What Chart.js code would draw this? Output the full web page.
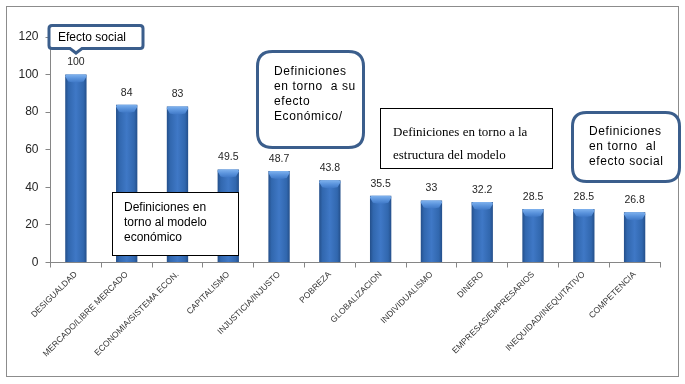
<!DOCTYPE html>
<html>
<head>
<meta charset="utf-8">
<script src="https://cdn.jsdelivr.net/npm/chart.js@4/dist/chart.umd.min.js"></script>
<style>
html,body{margin:0;padding:0;background:#fff;}
canvas{display:block;}
</style>
</head>
<body>
<canvas id="c" width="685" height="384"></canvas>
<script>
const categories = ["DESIGUALDAD","MERCADO/LIBRE MERCADO","ECONOMIA/SISTEMA ECON.","CAPITALISMO","INJUSTICIA/INJUSTO","POBREZA","GLOBALIZACION","INDIVIDUALISMO","DINERO","EMPRESAS/EMPRESARIOS","INEQUIDAD/INEQUITATIVO","COMPETENCIA"];
const values = [100, 84, 83, 49.5, 48.7, 43.8, 35.5, 33, 32.2, 28.5, 28.5, 26.8];
const valueLabels = ["100","84","83","49.5","48.7","43.8","35.5","33","32.2","28.5","28.5","26.8"];
const yTicks = [0, 20, 40, 60, 80, 100, 120];

const annotations = [
  {type:"callout", lines:["Efecto social"]},
  {type:"rect", lines:["Definiciones en","torno al modelo","económico"]},
  {type:"round", lines:["Definiciones","en torno  a su","efecto","Económico/"]},
  {type:"rectSerif", lines:["Definiciones en torno a la","estructura del modelo"]},
  {type:"round", lines:["Definiciones","en torno  al","efecto social"]}
];

const BAR_PCT = 0.42;

function barGradient(context){
  const chart = context.chart;
  const xs = chart.scales.x;
  if (!xs || !chart.chartArea) return '#3b73c0';
  const cx = xs.getPixelForValue(context.dataIndex);
  const w = (xs.width / categories.length) * BAR_PCT;
  const g = chart.ctx.createLinearGradient(cx - w/2, 0, cx + w/2, 0);
  g.addColorStop(0, '#244f8a');
  g.addColorStop(0.15, '#3167ae');
  g.addColorStop(0.5, '#3f78c6');
  g.addColorStop(0.85, '#3167ae');
  g.addColorStop(1, '#244f8a');
  return g;
}

function roundRect(ctx, x, y, w, h, r){
  ctx.beginPath();
  ctx.moveTo(x+r, y);
  ctx.lineTo(x+w-r, y);
  ctx.quadraticCurveTo(x+w, y, x+w, y+r);
  ctx.lineTo(x+w, y+h-r);
  ctx.quadraticCurveTo(x+w, y+h, x+w-r, y+h);
  ctx.lineTo(x+r, y+h);
  ctx.quadraticCurveTo(x, y+h, x, y+h-r);
  ctx.lineTo(x, y+r);
  ctx.quadraticCurveTo(x, y, x+r, y);
  ctx.closePath();
}

const framePlugin = {
  id: 'frame',
  beforeDraw(chart){
    const ctx = chart.ctx;
    ctx.save();
    ctx.fillStyle = '#fff';
    ctx.fillRect(0,0,chart.width,chart.height);
    ctx.strokeStyle = '#8c8c8c';
    ctx.lineWidth = 1;
    ctx.strokeRect(6.5, 6.5, 672, 370);
    ctx.restore();
  }
};

const barExtrasPlugin = {
  id: 'barExtras',
  afterDatasetsDraw(chart){
    const ctx = chart.ctx;
    const meta = chart.getDatasetMeta(0);
    ctx.save();
    meta.data.forEach((bar, i) => {
      const x0 = bar.x - bar.width/2, x1 = bar.x + bar.width/2, y = bar.y;
      const g = ctx.createLinearGradient(0, y, 0, y + 8);
      g.addColorStop(0, '#7fb2ee');
      g.addColorStop(0.5, '#5a93dc');
      g.addColorStop(1, '#3f78c6');
      ctx.fillStyle = g;
      ctx.beginPath();
      ctx.moveTo(x0, y + 2);
      ctx.quadraticCurveTo(x0, y, x0 + 2, y);
      ctx.lineTo(x1 - 2, y);
      ctx.quadraticCurveTo(x1, y, x1, y + 2);
      ctx.lineTo(x1 - 3, y + 7);
      ctx.quadraticCurveTo(bar.x, y + 9, x0 + 3, y + 7);
      ctx.closePath();
      ctx.fill();
      ctx.fillStyle = '#262626';
      ctx.font = '10.5px "Liberation Sans", Arial, sans-serif';
      ctx.textAlign = 'center';
      ctx.textBaseline = 'middle';
      ctx.fillText(valueLabels[i], bar.x, y - 12);
    });
    ctx.restore();
  }
};

function drawLines(ctx, lines, x, y0, lh, font, spacing){
  ctx.font = font;
  ctx.fillStyle = '#000';
  ctx.textAlign = 'left';
  ctx.textBaseline = 'middle';
  if (spacing) { try { ctx.letterSpacing = spacing; } catch(e){} }
  lines.forEach((t, k) => ctx.fillText(t, x, y0 + k*lh));
  try { ctx.letterSpacing = '0px'; } catch(e){}
}

const annotationPlugin = {
  id: 'annot',
  afterDraw(chart){
    const ctx = chart.ctx;
    ctx.save();
    const sans = '12px "Liberation Sans", Arial, sans-serif';
    const blue = '#3b5e8c';
    ctx.lineWidth = 3;
    ctx.strokeStyle = blue;
    ctx.fillStyle = '#fff';
    ctx.beginPath();
    const cx0 = 49, cy0 = 25.5, cx1 = 143, cy1 = 48.5, r = 3;
    ctx.moveTo(cx0 + r, cy0);
    ctx.lineTo(cx1 - r, cy0);
    ctx.quadraticCurveTo(cx1, cy0, cx1, cy0 + r);
    ctx.lineTo(cx1, cy1 - r);
    ctx.quadraticCurveTo(cx1, cy1, cx1 - r, cy1);
    ctx.lineTo(82, cy1);
    ctx.lineTo(76, 53);
    ctx.lineTo(70, cy1);
    ctx.lineTo(cx0 + r, cy1);
    ctx.quadraticCurveTo(cx0, cy1, cx0, cy1 - r);
    ctx.lineTo(cx0, cy0 + r);
    ctx.quadraticCurveTo(cx0, cy0, cx0 + r, cy0);
    ctx.closePath();
    ctx.fill();
    ctx.stroke();
    drawLines(ctx, annotations[0].lines, 58, 38, 15, sans);

    ctx.lineWidth = 1;
    ctx.strokeStyle = '#000';
    ctx.fillStyle = '#fff';
    ctx.fillRect(112.5, 192.5, 126, 63);
    ctx.strokeRect(112.5, 192.5, 126, 63);
    drawLines(ctx, annotations[1].lines, 124, 208, 15, sans);

    ctx.lineWidth = 3;
    ctx.strokeStyle = blue;
    ctx.fillStyle = '#fff';
    roundRect(ctx, 257.5, 51.5, 106, 96, 15);
    ctx.fill(); ctx.stroke();
    drawLines(ctx, annotations[2].lines, 274, 72, 15, sans, '0.6px');

    ctx.lineWidth = 1;
    ctx.strokeStyle = '#000';
    ctx.fillStyle = '#fff';
    ctx.fillRect(380.5, 108.5, 172, 60);
    ctx.strokeRect(380.5, 108.5, 172, 60);
    drawLines(ctx, annotations[3].lines, 393, 133, 23, '13px "Liberation Serif", "Times New Roman", serif');

    ctx.lineWidth = 3;
    ctx.strokeStyle = blue;
    ctx.fillStyle = '#fff';
    roundRect(ctx, 572.5, 112.5, 107, 69, 14);
    ctx.fill(); ctx.stroke();
    drawLines(ctx, annotations[4].lines, 589, 132, 15, sans, '0.6px');
    ctx.restore();
  }
};

new Chart(document.getElementById('c'), {
  type: 'bar',
  data: {
    labels: categories,
    datasets: [{
      data: values,
      backgroundColor: barGradient,
      borderWidth: 0,
      barPercentage: BAR_PCT,
      categoryPercentage: 1
    }]
  },
  options: {
    responsive: false,
    animation: false,
    events: [],
    layout: { padding: { top: 37, right: 25, bottom: 0, left: 0 } },
    plugins: { legend: { display: false }, tooltip: { enabled: false } },
    scales: {
      x: {
        offset: true,
        grid: { display: true, offset: true, drawOnChartArea: false, drawTicks: true, tickLength: 5, color: '#868686' },
        border: { display: true, color: '#868686', width: 1 },
        ticks: {
          autoSkip: false, maxRotation: 45, minRotation: 45, padding: 2,
          color: '#333333',
          font: { family: '"Liberation Sans", Arial, sans-serif', size: 8.5 }
        },
        afterFit(scale){ scale.height = 121.5; }
      },
      y: {
        min: 0, max: 120,
        afterBuildTicks(scale){ scale.ticks = yTicks.map(v => ({value: v})); },
        grid: { display: true, drawOnChartArea: false, drawTicks: true, tickLength: 5, color: '#868686' },
        border: { display: true, color: '#868686', width: 1 },
        ticks: {
          padding: 7, color: '#262626',
          font: { family: '"Liberation Sans", Arial, sans-serif', size: 12 }
        },
        afterFit(scale){ scale.width = 50.5; }
      }
    }
  },
  plugins: [framePlugin, barExtrasPlugin, annotationPlugin]
});
</script>
</body>
</html>
